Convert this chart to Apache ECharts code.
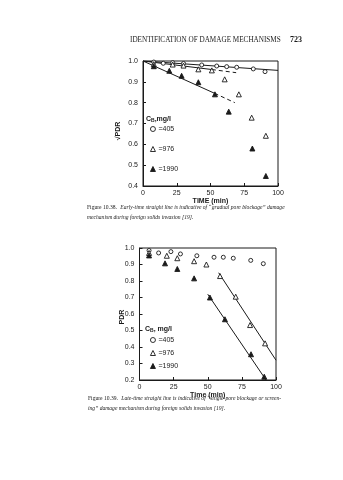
<!DOCTYPE html>
<html><head><meta charset="utf-8">
<script src="https://cdn.jsdelivr.net/npm/echarts@6/dist/echarts.min.js"></script>
<style>html,body{margin:0;background:#fff}#c{width:343px;height:480px}</style>
</head><body><div id="c"></div>
<script>
// Upper plot: sqrt(PDR) versus time (early-time straight lines)
const timeTicks = [0, 25, 50, 75, 100];
const rootPdr405 = [[8,0.995],[15,0.989],[22,0.992],[30,0.988],[43.5,0.981],[54.6,0.976],[62,0.973],[69.4,0.970],[81.7,0.962],[90.4,0.949]];
const rootPdr976 = [[8,0.985],[22,0.983],[30,0.978],[41,0.96],[51,0.955],[60.5,0.912],[71,0.84],[80.5,0.728],[91,0.641]];
const rootPdr1990 = [[8,0.975],[19.5,0.953],[28.6,0.929],[41,0.898],[53.3,0.84],[63.5,0.757],[81,0.58],[91,0.448]];
const early405 = [[0,1.0],[100,0.955]];
const early976 = [[0,1.0],[51,0.959]];
const early976Ext = [[51,0.959],[69,0.944]];
const early1990 = [[0,1.0],[53,0.845]];
const early1990Ext = [[53,0.845],[68,0.80]];

// Lower plot: PDR versus time (late-time straight lines)
const pdr405 = [[7,0.985],[14,0.97],[23,0.978],[30,0.964],[42,0.953],[54.6,0.944],[61.4,0.944],[68.7,0.938],[81.5,0.925],[90.7,0.905]];
const pdr976 = [[7,0.97],[20,0.953],[27.7,0.938],[40,0.92],[49,0.90],[59,0.83],[70.5,0.705],[81,0.533],[92,0.422]];
const pdr1990 = [[7,0.955],[18.7,0.907],[27.7,0.873],[40,0.816],[51.6,0.70],[62.6,0.568],[81.7,0.356],[91.4,0.22]];
const late976 = [[58,0.85],[100,0.32]];
const late1990 = [[50,0.72],[92.7,0.2]];

const legendNames = ['=405', '=976', '=1990'];
const ink = '#1a1a1a';
const sans = 'Liberation Sans';
const serif = 'Liberation Serif';

function xAxisCfg(gi, name) {
  return {
    gridIndex: gi, type: 'value', min: 0, max: 100, interval: 25,
    name: name, nameLocation: 'middle', nameGap: 12,
    nameTextStyle: { fontFamily: sans, fontSize: 7, fontWeight: 'bold', color: ink },
    axisLine: { lineStyle: { color: ink, width: 1 } },
    axisTick: { inside: true, length: 3, lineStyle: { color: ink } },
    axisLabel: { fontFamily: sans, fontSize: 7, color: ink, margin: 4 },
    splitLine: { show: false }
  };
}
function yAxisCfg(gi, min) {
  return {
    gridIndex: gi, type: 'value', min: min, max: 1.0, interval: 0.1,
    axisLine: { lineStyle: { color: ink, width: 1 } },
    axisTick: { inside: true, length: 3, lineStyle: { color: ink } },
    axisLabel: { fontFamily: sans, fontSize: 7, color: ink, margin: 5,
                 formatter: v => v.toFixed(1) },
    splitLine: { show: false }
  };
}
function scatter(name, gi, data, kind) {
  const open = kind !== 'filled';
  return {
    name: name, type: 'scatter', xAxisIndex: gi, yAxisIndex: gi, data: data,
    symbol: kind === 'circle' ? 'circle' : 'triangle',
    symbolSize: kind === 'circle' ? 4 : 5,
    itemStyle: { color: open ? '#fff' : ink, borderColor: ink, borderWidth: 0.9, opacity: 1 },
    z: 3
  };
}
function fit(gi, data, dashed) {
  return {
    type: 'line', xAxisIndex: gi, yAxisIndex: gi, data: data,
    symbol: 'none', silent: true,
    lineStyle: { color: ink, width: 1, type: dashed ? [4, 3] : 'solid' }, z: 2
  };
}
function legendCfg(top, gap) {
  return {
    orient: 'vertical', left: 145, top: top, itemGap: gap,
    itemWidth: 5, itemHeight: 5, itemStyle: { borderWidth: 0.9 },
    data: legendNames, selectedMode: false,
    textStyle: { fontFamily: sans, fontSize: 7, color: ink, lineHeight: 8, padding: [0, 0, 0, -2] }
  };
}
function txt(x, y, text, font, extra) {
  return { type: 'text', x: x, y: y,
    style: Object.assign({ text: text, font: font, fill: ink }, extra || {}) };
}

const chart = echarts.init(document.getElementById('c'), null, { renderer: 'canvas' });
chart.setOption({
  animation: false,
  backgroundColor: '#fff',
  grid: [
    { left: 143, top: 61, width: 135, height: 125, show: true, borderColor: ink, borderWidth: 1 },
    { left: 139.5, top: 248, width: 136.5, height: 132, show: true, borderColor: ink, borderWidth: 1 }
  ],
  xAxis: [xAxisCfg(0, 'TIME (min)'), xAxisCfg(1, 'Time (min)')],
  yAxis: [yAxisCfg(0, 0.4), yAxisCfg(1, 0.2)],
  legend: [legendCfg(120, 12), legendCfg(331, 5)],
  series: [
    scatter('=405', 0, rootPdr405, 'circle'),
    scatter('=976', 0, rootPdr976, 'open'),
    scatter('=1990', 0, rootPdr1990, 'filled'),
    fit(0, early405, false),
    fit(0, early976, false),
    fit(0, early976Ext, true),
    fit(0, early1990, false),
    fit(0, early1990Ext, true),
    scatter('=405', 1, pdr405, 'circle'),
    scatter('=976', 1, pdr976, 'open'),
    scatter('=1990', 1, pdr1990, 'filled'),
    fit(1, late976, false),
    fit(1, late1990, false)
  ],
  graphic: [
    txt(130, 40, 'IDENTIFICATION OF DAMAGE MECHANISMS', '7.2px ' + serif, { verticalAlign: 'middle' }),
    txt(290, 40, '723', 'bold 8px ' + serif, { verticalAlign: 'middle' }),
    // y-axis titles
    { type: 'text', x: 118, y: 131, rotation: Math.PI / 2,
      style: { text: '√PDR', font: 'bold 7px ' + sans, fill: ink, align: 'center', verticalAlign: 'middle' } },
    { type: 'text', x: 122, y: 317, rotation: Math.PI / 2,
      style: { text: 'PDR', font: 'bold 7px ' + sans, fill: ink, align: 'center', verticalAlign: 'middle' } },
    // legend headings
    { type: 'text', x: 146, y: 119, style: { text: 'C{s|B},mg/l', font: 'bold 7px ' + sans, fill: ink, verticalAlign: 'middle',
      rich: { s: { fontSize: 5, fontFamily: sans, fontWeight: 'bold', fill: ink, verticalAlign: 'bottom', padding: [4, 0, 0, 0] } } } },
    { type: 'text', x: 145, y: 329, style: { text: 'C{s|B}, mg/l', font: 'bold 7px ' + sans, fill: ink, verticalAlign: 'middle',
      rich: { s: { fontSize: 5, fontFamily: sans, fontWeight: 'bold', fill: ink, verticalAlign: 'bottom', padding: [4, 0, 0, 0] } } } },
    // captions
    { type: 'text', x: 87, y: 208, style: { text: '{b|Figure 10.38.} {i|Early-time straight line is indicative of “gradual pore blockage” damage}',
      verticalAlign: 'middle', rich: { b: { font: '5.6px ' + serif, fill: ink }, i: { font: 'italic 5.6px ' + serif, fill: ink } } } },
    { type: 'text', x: 87, y: 218, style: { text: 'mechanism during foreign solids invasion [19].',
      font: 'italic 5.6px ' + serif, fill: ink, verticalAlign: 'middle' } },
    { type: 'text', x: 88, y: 399, style: { text: '{b|Figure 10.39.} {i|Late-time straight line is indicative of “single-pore blockage or screen-}',
      verticalAlign: 'middle', rich: { b: { font: '5.6px ' + serif, fill: ink }, i: { font: 'italic 5.6px ' + serif, fill: ink } } } },
    { type: 'text', x: 88, y: 409, style: { text: 'ing” damage mechanism during foreign solids invasion [19].',
      font: 'italic 5.6px ' + serif, fill: ink, verticalAlign: 'middle' } }
  ]
});
</script>
</body></html>
